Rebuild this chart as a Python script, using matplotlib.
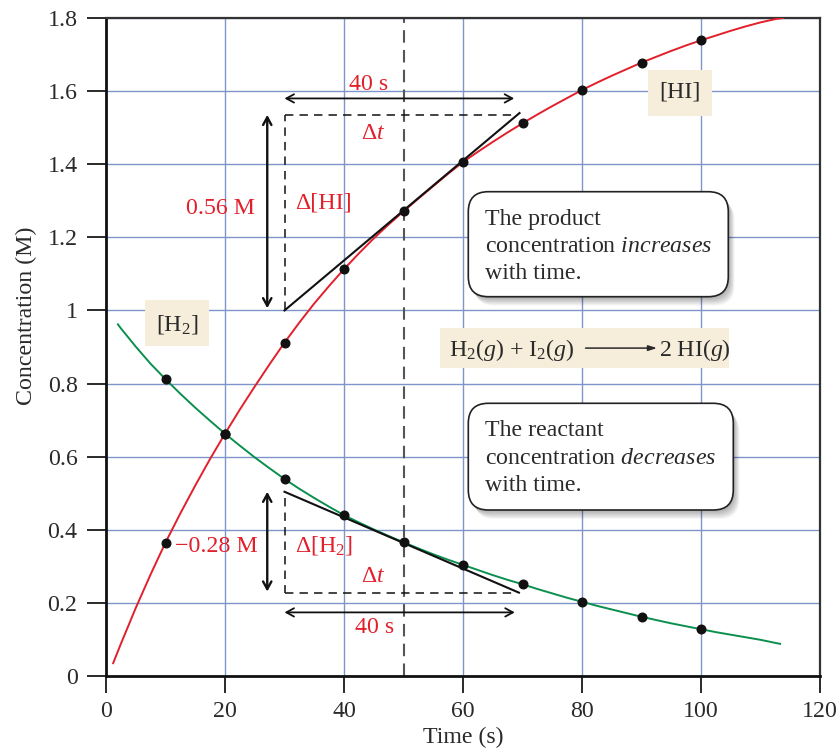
import matplotlib
matplotlib.use("Agg")
import matplotlib.pyplot as plt
from matplotlib.patches import FancyBboxPatch, Rectangle

plt.rcParams['font.family'] = ['Liberation Serif', 'DejaVu Serif']
plt.rcParams['mathtext.fontset'] = 'custom'
plt.rcParams['mathtext.rm'] = 'Liberation Serif'
plt.rcParams['mathtext.it'] = 'Liberation Serif:italic'
plt.rcParams['mathtext.bf'] = 'Liberation Serif:bold'

# ---- data ----
t_points = [10, 20, 30, 40, 50, 60, 70, 80, 90, 100]
hi_points = [0.365, 0.663, 0.912, 1.113, 1.271, 1.406, 1.512, 1.603, 1.678, 1.739]
h2_points = [0.812, 0.663, 0.539, 0.440, 0.366, 0.304, 0.251, 0.203, 0.162, 0.128]

t_hi_curve = [1.2, 2.5, 5, 7.5, 10, 12.5, 15, 17.5, 20, 22.5, 25, 27.5, 30, 32.5, 35, 37.5,
              40, 42.5, 45, 47.5, 50, 52.5, 55, 57.5, 60, 62.5, 65, 67.5, 70, 72.5, 75, 77.5,
              80, 82.5, 85, 87.5, 90, 92.5, 95, 97.5, 100, 102.5, 105, 107.5, 110, 112.5, 113.8]
hi_curve = [0.035, 0.088, 0.186, 0.278, 0.365, 0.445, 0.521, 0.594, 0.663, 0.729, 0.792, 0.853,
            0.912, 0.967, 1.019, 1.067, 1.113, 1.156, 1.197, 1.235, 1.271, 1.306, 1.340, 1.374,
            1.406, 1.434, 1.461, 1.487, 1.512, 1.536, 1.559, 1.581, 1.603, 1.623, 1.642, 1.660,
            1.678, 1.694, 1.710, 1.725, 1.739, 1.752, 1.765, 1.777, 1.788, 1.797, 1.800]

t_h2_curve = [2, 2.5, 5, 7.5, 10, 12.5, 15, 17.5, 20, 22.5, 25, 27.5, 30, 32.5, 35, 37.5, 40,
              42.5, 45, 47.5, 50, 52.5, 55, 57.5, 60, 62.5, 65, 67.5, 70, 72.5, 75, 77.5, 80,
              82.5, 85, 87.5, 90, 92.5, 95, 97.5, 100, 102.5, 105, 107.5, 110, 112.5, 113.3]
h2_curve = [0.962, 0.951, 0.901, 0.854, 0.812, 0.772, 0.734, 0.698, 0.663, 0.630, 0.598, 0.568,
            0.539, 0.512, 0.487, 0.463, 0.440, 0.420, 0.401, 0.383, 0.366, 0.349, 0.333, 0.318,
            0.304, 0.290, 0.276, 0.263, 0.251, 0.238, 0.226, 0.214, 0.203, 0.192, 0.182, 0.172,
            0.162, 0.153, 0.144, 0.136, 0.128, 0.120, 0.113, 0.106, 0.099, 0.0905, 0.088]

tangent_hi_t = [30, 69.5]
tangent_hi_c = [1.0, 1.54]
tangent_h2_t = [30, 69.4]
tangent_h2_c = [0.504, 0.228]

x_ticks = [0, 20, 40, 60, 80, 100, 120]
y_ticks = [0, 0.2, 0.4, 0.6, 0.8, 1.0, 1.2, 1.4, 1.6, 1.8]
y_tick_labels = ["0", "0.2", "0.4", "0.6", "0.8", "1", "1.2", "1.4", "1.6", "1.8"]

RED = '#e2202b'
GREEN = '#0b8f4e'
GRID = '#7d95c8'
BEIGE = '#f6eddb'
DARK = '#2a2a2a'

fig = plt.figure(figsize=(8.38, 7.53), dpi=100)
ax = fig.add_axes([106/838, 77/753, 714/838, 658/753])
ax.set_xlim(0, 120)
ax.set_ylim(0, 1.8)

fs = 17.2

ax.set_xticks(x_ticks)
ax.set_xticklabels([str(v) for v in x_ticks])
ax.set_yticks(y_ticks)
ax.set_yticklabels(y_tick_labels)
ax.tick_params(axis='both', labelsize=fs, colors=DARK, direction='out', width=1.4)
ax.tick_params(axis='y', length=13.5, pad=7)
ax.tick_params(axis='x', length=12, pad=6)
ax.grid(True, color=GRID, lw=1.0, zorder=0)
ax.set_axisbelow(True)
for s in ['left', 'bottom']:
    ax.spines[s].set_linewidth(2.0)
    ax.spines[s].set_color('#111111')
for s in ['top', 'right']:
    ax.spines[s].set_linewidth(1.6)
    ax.spines[s].set_color('#333333')

ax.set_xlabel('Time (s)', fontsize=fs, color=DARK)
ax.set_ylabel('Concentration (M)', fontsize=fs, color=DARK)
ax.xaxis.set_label_coords(0.5, -0.077)
ax.yaxis.set_label_coords(-0.097, 0.547)

# vertical dashed line at t=50
ax.axvline(50, color='#555555', lw=1.5, ls=(0, (6, 3.5)), zorder=2)

# curves
ax.plot(t_hi_curve, hi_curve, color=RED, lw=1.4, zorder=3, solid_joinstyle='round')
ax.plot(t_h2_curve, h2_curve, color=GREEN, lw=1.4, zorder=3, solid_joinstyle='round')

# tangents
ax.plot(tangent_hi_t, tangent_hi_c, color='#111111', lw=1.5, zorder=4)
ax.plot(tangent_h2_t, tangent_h2_c, color='#111111', lw=1.5, zorder=4)

# dashed triangles
dash = (0, (5.5, 4))
ax.plot([30, 30], [1.0, 1.536], color='#111111', lw=1.1, ls=dash, zorder=4)
ax.plot([30, 69], [1.536, 1.536], color='#111111', lw=1.1, ls=dash, zorder=4)
ax.plot([30, 30], [0.487, 0.228], color='#111111', lw=1.1, ls=dash, zorder=4)
ax.plot([30, 69], [0.228, 0.228], color='#111111', lw=1.1, ls=dash, zorder=4)

# points
ax.plot(t_points, hi_points, 'o', color='#111111', ms=6.2, zorder=6)
ax.plot(t_points, h2_points, 'o', color='#111111', ms=6.2, zorder=6)

# arrows
def darrow(x0, y0, x1, y1, lw, hl, hw):
    ax.annotate('', xy=(x1, y1), xytext=(x0, y0),
                arrowprops=dict(arrowstyle=f'<->,head_length={hl},head_width={hw}',
                                lw=lw, color='#111111', shrinkA=0, shrinkB=0),
                zorder=5)

darrow(30, 1.58, 68.6, 1.58, 1.3, 0.55, 0.3)
darrow(27.1, 1.006, 27.1, 1.535, 1.7, 0.55, 0.3)
darrow(30, 0.174, 68.7, 0.174, 1.3, 0.55, 0.3)
darrow(27.1, 0.231, 27.1, 0.504, 1.7, 0.55, 0.3)

# red labels
ax.text(44.2, 1.617, '40 s', color=RED, fontsize=fs, ha='center', va='center', zorder=7)
ax.text(44.9, 1.485, r'Δ$\it{t}$', color=RED, fontsize=fs, ha='center', va='center', zorder=7)
ax.text(19.2, 1.28, '0.56 M', color=RED, fontsize=fs, ha='center', va='center', zorder=7)
ax.text(31.8, 1.293, 'Δ[HI]', color=RED, fontsize=fs, ha='left', va='center', zorder=7)
ax.text(18.5, 0.354, '−0.28 M', color=RED, fontsize=fs, ha='center', va='center', zorder=7)
ax.text(31.8, 0.358, r'Δ[H$_2$]', color=RED, fontsize=fs, ha='left', va='center', zorder=7)
ax.text(44.9, 0.271, r'Δ$\it{t}$', color=RED, fontsize=fs, ha='center', va='center', zorder=7)
ax.text(45.2, 0.132, '40 s', color=RED, fontsize=fs, ha='center', va='center', zorder=7)

# beige label boxes
ax.add_patch(Rectangle((91.1, 1.533), 10.7, 0.125, fc=BEIGE, ec='none', zorder=1.5))
ax.text(96.45, 1.597, '[HI]', color=DARK, fontsize=fs, ha='center', va='center', zorder=7)
ax.add_patch(Rectangle((6.55, 0.903), 10.75, 0.125, fc=BEIGE, ec='none', zorder=1.5))
ax.text(11.9, 0.962, r'[H$_2$]', color=DARK, fontsize=fs, ha='center', va='center', zorder=7)
ax.add_patch(Rectangle((56.1, 0.843), 48.6, 0.108, fc=BEIGE, ec='none', zorder=1.5))
ax.text(57.6, 0.893, r'H$_2$($\it{g}$) + I$_2$($\it{g}$)', color=DARK,
        fontsize=fs, ha='left', va='center', zorder=7)
ax.annotate('', xy=(92.6, 0.897), xytext=(80.6, 0.897),
            arrowprops=dict(arrowstyle='-|>,head_length=0.5,head_width=0.16', lw=1.1,
                            color=DARK, shrinkA=0, shrinkB=0), zorder=7)
ax.text(92.9, 0.893, r'2 HI($\it{g}$)', color=DARK,
        fontsize=fs, ha='left', va='center', zorder=7)

# callout boxes (in figure inches)
def callout(x0, y0, x1, y1, lines):
    tr = fig.dpi_scale_trans
    for i in range(8):
        off = 0.011 * (i + 1)
        sh = FancyBboxPatch((x0 + off * 0.7, y0 - off), x1 - x0, y1 - y0,
                            boxstyle='round,pad=0,rounding_size=0.2',
                            transform=tr, fc='#000000', ec='none', alpha=0.045,
                            zorder=7.5)
        fig.patches.append(sh)
    box = FancyBboxPatch((x0, y0), x1 - x0, y1 - y0,
                         boxstyle='round,pad=0,rounding_size=0.2',
                         transform=tr, fc='white', ec='#222222', lw=1.2, zorder=8)
    fig.patches.append(box)
    fig.text((x0 + 0.17) / 8.38, (y1 - 0.17) / 7.53, lines, fontsize=fs, color=DARK,
             ha='left', va='top', linespacing=1.4, zorder=9)

callout(4.683, 4.563, 7.283, 5.613,
        'The product\nconcentration $\\it{increases}$\nwith time.')
callout(4.683, 2.43, 7.333, 3.497,
        'The reactant\nconcentration $\\it{decreases}$\nwith time.')

fig.savefig('out.png', dpi=100)
